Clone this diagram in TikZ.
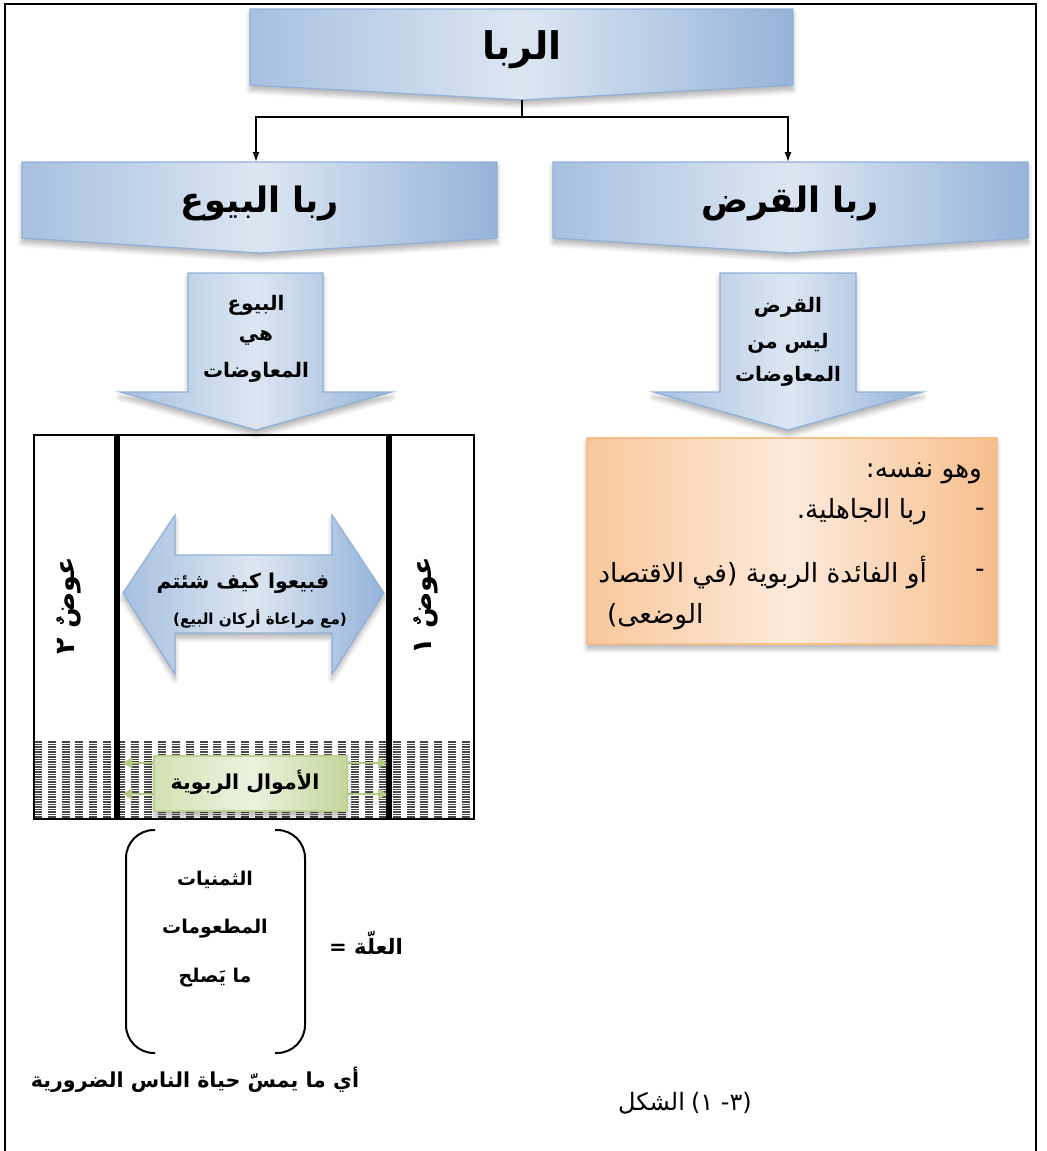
\documentclass[tikz,border=0pt]{standalone}
\usepackage{fontspec}
\TeXXeTstate=1
\newfontfamily\arabicfont[Script=Arabic]{DejaVu Sans}
\usetikzlibrary{arrows.meta,shadows.blur}

\newcommand\rtl[1]{\beginR #1\endR}
\newcommand\fsz[1]{\fontsize{#1}{1.2\dimexpr#1pt\relax}\selectfont}

\definecolor{blueEdgeL}{HTML}{A7C0E0}
\definecolor{blueEdgeR}{HTML}{95B3D9}
\definecolor{blueMid}{HTML}{DCE6F2}
\definecolor{blueLine}{HTML}{8FB0DA}
\definecolor{orangeEdgeL}{HTML}{F9C79B}
\definecolor{orangeEdgeR}{HTML}{F7BE8C}
\definecolor{orangeMid}{HTML}{FDEADB}
\definecolor{orangeLine}{HTML}{F8BE8A}
\definecolor{greenEdgeL}{HTML}{D2E1B3}
\definecolor{greenEdgeR}{HTML}{C3D69B}
\definecolor{greenMid}{HTML}{ECF2E0}
\definecolor{greenLine}{HTML}{BCD28F}
\definecolor{greenArrow}{HTML}{B3CB83}

\tikzset{
  softshadow/.style={blur shadow={shadow xshift=0pt,shadow yshift=-2.5pt,
      shadow blur radius=2.5pt,shadow blur steps=6,shadow opacity=30}},
  bluepanel/.style={left color=blueEdgeL,right color=blueEdgeR,middle color=blueMid,
      draw=blueLine,line width=0.6pt,softshadow},
  orangepanel/.style={left color=orangeEdgeL,right color=orangeEdgeR,middle color=orangeMid,
      draw=orangeLine,line width=0.6pt,softshadow},
  greenpanel/.style={left color=greenEdgeL,right color=greenEdgeR,middle color=greenMid,
      draw=greenLine,line width=0.6pt,softshadow},
  roothead/.style={font=\arabicfont\bfseries\fsz{19}},
  subhead/.style={font=\arabicfont\bfseries\fsz{17.5}},
  arrowtext/.style={font=\arabicfont\bfseries\fsz{10}},
  boldtext/.style={font=\arabicfont\bfseries\fsz{10.3}},
  plaintext/.style={font=\arabicfont\fsz{13.2}},
  captiontext/.style={font=\arabicfont\fsz{12}},
  linkline/.style={line width=0.7pt,-{Latex[length=5pt,width=3.5pt]}},
  hatchline/.style={draw=black!72,line width=0.6pt,dash pattern=on 4pt off 2.9pt},
  greenarrow/.style={draw=greenArrow,line width=1.3pt,-{Triangle[length=4.5pt,width=5.5pt]}},
  bracketline/.style={line width=1pt,rounded corners=14pt},
}

\begin{document}
\begin{tikzpicture}[x=0.5pt,y=-0.5pt]
\useasboundingbox (0,0) rectangle (1046,1151);

% outer frame (open at the bottom)
\draw[line width=0.8pt] (5,1170) -- (5,4) -- (1036,4) -- (1036,1170);

% ---------- chevron headers ----------
\path[bluepanel] (250,9) -- (793,9) -- (793,85) -- (522,100) -- (250,85) -- cycle;
\path[bluepanel] (22,162) -- (497,162) -- (497,238) -- (260,253) -- (22,238) -- cycle;
\path[bluepanel] (553,162) -- (1028,162) -- (1028,238) -- (790,253) -- (553,238) -- cycle;

\node[roothead] (root) at (522,50) {\rtl{الربا}};
\node[subhead] (saleRiba) at (260,203) {\rtl{ربا البيوع}};
\node[subhead] (loanRiba) at (790,203) {\rtl{ربا القرض}};

\coordinate (rootTip) at (522,100);
\coordinate (saleTop) at (256,162);
\coordinate (loanTop) at (788,162);
\draw[linkline] (rootTip) -- ++(0,17) -| (saleTop);
\draw[linkline] (rootTip) -- ++(0,17) -| (loanTop);

% ---------- down arrows ----------
\path[bluepanel] (188,273) -- (323,273) -- (323,392) -- (392,392) -- (256,430)
  -- (120,392) -- (188,392) -- cycle;
\path[bluepanel] (720,273) -- (856,273) -- (856,392) -- (923,392) -- (788,430)
  -- (653,392) -- (720,392) -- cycle;

\node[arrowtext] (saleA) at (256,305) {\rtl{البيوع}};
\node[arrowtext] (saleB) at (256,338) {\rtl{هي}};
\node[arrowtext] (saleC) at (256,372) {\rtl{المعاوضات}};
\node[arrowtext] (loanA) at (788,307) {\rtl{القرض}};
\node[arrowtext] (loanB) at (788,343) {\rtl{ليس من}};
\node[arrowtext] (loanC) at (788,376) {\rtl{المعاوضات}};

% ---------- exchange block ----------
\foreach \k in {0,...,30}
  \draw[hatchline] (34,742+2.5*\k) -- (474,742+2.5*\k);
\draw[line width=1pt] (34,435) rectangle (474,819);
\draw[line width=3pt] (117,435) -- (117,819);
\draw[line width=3pt] (389,435) -- (389,819);

\node[font=\arabicfont\bfseries\fsz{13.5},rotate=90] (counterTwo) at (69,606) {\rtl{عوضٌ ٢}};
\node[font=\arabicfont\bfseries\fsz{13.5},rotate=90] (counterOne) at (426,606) {\rtl{عوضٌ ١}};

\path[bluepanel] (123,593) -- (175,515) -- (175,555) -- (332,555) -- (332,515)
  -- (384,593) -- (332,674) -- (332,633) -- (175,633) -- (175,674) -- cycle;
\node[font=\arabicfont\bfseries\fsz{10.2}] (freeSale) at (243,583) {\rtl{فبيعوا كيف شئتم}};
\node[font=\arabicfont\bfseries\fsz{7.6}] (saleRule) at (260,619) {\rtl{(مع مراعاة أركان البيع)}};

% ribawi goods label
\draw[greenarrow] (168,763) -- (123,763);
\draw[greenarrow] (168,794) -- (123,794);
\draw[greenarrow] (340,763) -- (387,763);
\draw[greenarrow] (340,794) -- (387,794);
\path[greenpanel] (154,756) rectangle (347,811);
\node[boldtext] (ribawi) at (245,782) {\rtl{الأموال الربوية}};

% ---------- cause bracket ----------
\node[font=\arabicfont\bfseries\fsz{9.5}] (priceGoods) at (215,880) {\rtl{الثمنيات}};
\node[font=\arabicfont\bfseries\fsz{9.5}] (foodGoods) at (215,929) {\rtl{المطعومات}};
\node[font=\arabicfont\bfseries\fsz{9.5}] (fitGoods) at (215,978) {\rtl{ما يَصلح}};
\coordinate (bTL) at (155,830);
\coordinate (bBL) at (155,1053);
\coordinate (bTR) at (275,830);
\coordinate (bBR) at (275,1053);
\draw[bracketline] (bTL) -- (126,830) -- (126,1053) -- (bBL);
\draw[bracketline] (bTR) -- (305,830) -- (305,1053) -- (bBR);
\node[font=\arabicfont\bfseries\fsz{10.6}] (cause) at (366,943) {\rtl{العلّة =}};
\node[boldtext] (meaning) at (195,1080) {\rtl{أي ما يمسّ حياة الناس الضرورية}};

% ---------- loan block ----------
\path[orangepanel] (587,438) rectangle (997,644);
\node[plaintext,anchor=east] (same) at (989,473) {\rtl{وهو نفسه:}};
\node[plaintext] (dashA) at (980,512) {-};
\node[plaintext,anchor=east] (jahiliya) at (934,512) {\rtl{ربا الجاهلية.}};
\node[plaintext] (dashB) at (980,573) {-};
\node[plaintext,anchor=east] (interest) at (934,573) {\rtl{أو الفائدة الربوية (في الاقتصاد}};
\node[plaintext,anchor=west] (positive) at (600,617) {\rtl{الوضعى)}};

% caption: word on the left, figure number on the right
\node[captiontext,anchor=east] (captionWord) at (692,1103) {\rtl{الشكل}};
\node[captiontext,anchor=west] (captionNum) at (684,1103)
  {\rtl{\hbox{\hbox{(}\hbox{٣}\hbox{-}\ \hbox{١}\hbox{)}}}};
\end{tikzpicture}
\end{document}
